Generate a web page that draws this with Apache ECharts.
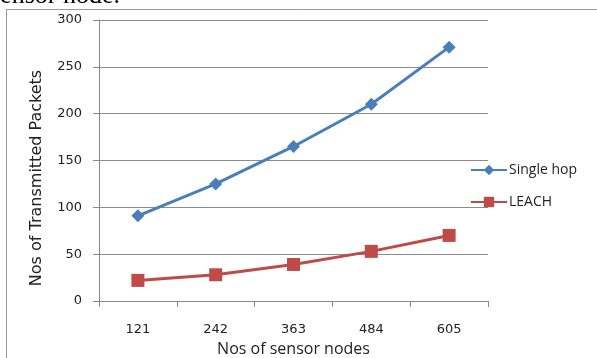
<!DOCTYPE html>
<html>
<head>
<meta charset="utf-8">
<script src="https://cdn.jsdelivr.net/npm/echarts@6/dist/echarts.min.js"></script>
<style>html,body{margin:0;padding:0;background:#fff;}#c{width:597px;height:358px;}</style>
</head>
<body>
<div id="c"></div>
<script>
var categories = ['121', '242', '363', '484', '605'];
var singleHop = [91, 125, 165, 210, 271];
var leach = [22, 28, 39, 53, 70];
var yTicks = { min: 0, max: 300, interval: 50 };

var chart = echarts.init(document.getElementById('c'), null, { renderer: 'canvas' });
chart.setOption({
  animation: false,
  backgroundColor: '#fff',
  graphic: [
    { type: 'rect', shape: { x: 6.5, y: 9.5, width: 620, height: 400 },
      style: { fill: 'none', stroke: '#9a9a9a', lineWidth: 1 }, z: 0 },
    { type: 'text', left: -10, top: -17,
      style: { text: 'sensor node.', font: '26px "Liberation Serif"', fill: '#000' } },
    { type: 'text', x: 37, y: 178, rotation: Math.PI / 2,
      style: { text: 'Nos of Transmitted Packets', font: '16px "DejaVu Sans"', fill: '#222',
               textAlign: 'center', textVerticalAlign: 'middle' } }
  ],
  grid: { left: 99, right: 109, top: 20, bottom: 57, outerBoundsMode: 'none', containLabel: false },
  legend: {
    orient: 'vertical', left: 470, top: 163, itemGap: 18, padding: 0,
    itemWidth: 36, itemHeight: 13,
    textStyle: { fontFamily: 'Open Sans', fontSize: 14, color: '#222', padding: [0, 0, 0, -3] },
    data: ['Single hop', 'LEACH']
  },
  xAxis: {
    type: 'category', data: categories, boundaryGap: true,
    name: 'Nos of sensor nodes', nameLocation: 'middle', nameGap: 40,
    nameTextStyle: { fontFamily: 'Open Sans', fontSize: 16, color: '#222' },
    axisLine: { lineStyle: { color: '#888', width: 1 } },
    axisTick: { show: true, length: 6, lineStyle: { color: '#888' } },
    axisLabel: { margin: 22, fontFamily: 'DejaVu Sans', fontSize: 13, color: '#222' },
    splitLine: { show: false }
  },
  yAxis: {
    type: 'value', min: yTicks.min, max: yTicks.max, interval: yTicks.interval,
    axisLine: { show: true, lineStyle: { color: '#888', width: 1 } },
    axisTick: { show: true, length: 6, lineStyle: { color: '#888' } },
    axisLabel: { margin: 17, fontFamily: 'DejaVu Sans', fontSize: 13, color: '#222' },
    splitLine: { show: true, lineStyle: { color: '#8c8c8c', width: 1 } }
  },
  series: [
    { name: 'Single hop', type: 'line', data: singleHop,
      symbol: 'diamond', symbolSize: 13,
      lineStyle: { color: '#4A7EBB', width: 3 },
      itemStyle: { color: '#4A7EBB' } },
    { name: 'LEACH', type: 'line', data: leach,
      symbol: 'rect', symbolSize: 13,
      lineStyle: { color: '#BE4B48', width: 3 },
      itemStyle: { color: '#BE4B48' } }
  ]
});
</script>
</body>
</html>
